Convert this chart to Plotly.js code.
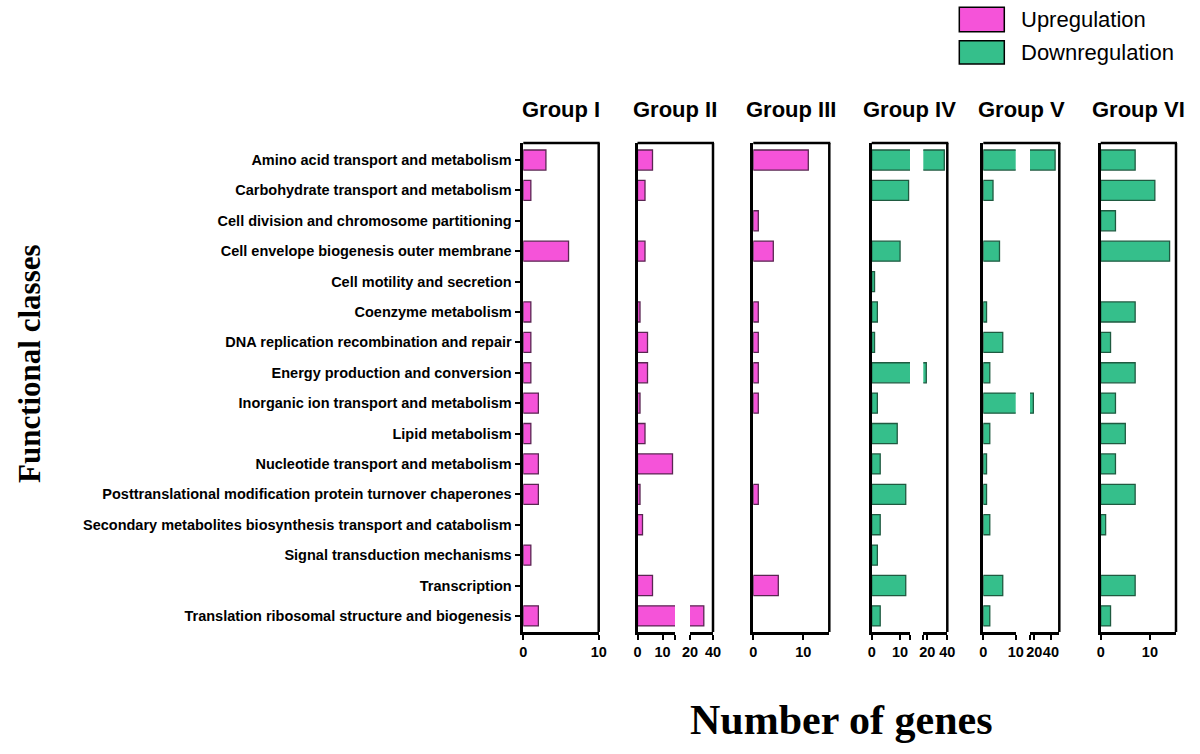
<!DOCTYPE html>
<html>
<head>
<meta charset="utf-8">
<script src="https://cdn.plot.ly/plotly-3.0.1.min.js"></script>
<style>html,body{margin:0;padding:0;background:#fff;}#chart{width:1200px;height:754px;}</style>
</head>
<body>
<div id="chart"></div>
<script>
// ---------- DATA ----------
const categories = [
  'Amino acid transport and metabolism',
  'Carbohydrate transport and metabolism',
  'Cell division and chromosome partitioning',
  'Cell envelope biogenesis outer membrane',
  'Cell motility and secretion',
  'Coenzyme metabolism',
  'DNA replication recombination and repair',
  'Energy production and conversion',
  'Inorganic ion transport and metabolism',
  'Lipid metabolism',
  'Nucleotide transport and metabolism',
  'Posttranslational modification protein turnover chaperones',
  'Secondary metabolites biosynthesis transport and catabolism',
  'Signal transduction mechanisms',
  'Transcription',
  'Translation ribosomal structure and biogenesis'
];
const groupNames = ['Group I', 'Group II', 'Group III', 'Group IV', 'Group V', 'Group VI'];
const regulation = ['Upregulation', 'Upregulation', 'Upregulation', 'Downregulation', 'Downregulation', 'Downregulation'];
const legendLabels = ['Upregulation', 'Downregulation'];

const groupI   = [3, 1, 0, 6, 0, 1, 1, 1, 2, 1, 2, 2, 0, 1, 0, 2];
const groupII  = [6, 3, 0, 3, 0, 1, 4, 4, 1, 3, 14, 1, 2, 0, 6, 32];
const groupIII = [11, 0, 1, 4, 0, 1, 1, 1, 1, 0, 0, 1, 0, 0, 5, 0];
const groupIV  = [37, 13, 0, 10, 1, 2, 1, 19, 2, 9, 3, 12, 3, 2, 12, 3];
const groupV   = [45, 3, 0, 5, 0, 1, 6, 2, 19, 2, 1, 1, 2, 0, 6, 2];
const groupVI  = [7, 11, 3, 14, 0, 7, 2, 7, 3, 5, 3, 7, 1, 0, 7, 2];
const groupValues = [groupI, groupII, groupIII, groupIV, groupV, groupVI];

// axis segments (broken axes) : ranges and tick labels
const segRanges = [
  [[0, 10]],
  [[0, 15], [20, 40]],
  [[0, 15.2]],
  [[0, 13.5], [16, 40]],
  [[0, 10], [15, 50]],
  [[0, 15.3]]
];
const segTickVals = [
  [[0, 10]],
  [[0, 10, 15], [20, 40]],
  [[0, 10]],
  [[0, 10, 13.5], [16, 20, 40]],
  [[0, 10], [15, 20, 40]],
  [[0, 10]]
];
const segTickText = [
  [['0', '10']],
  [['0', '10', ''], ['20', '40']],
  [['0', '10']],
  [['0', '10', ''], ['', '20', '40']],
  [['0', '10'], ['', '20', '40']],
  [['0', '10']]
];

// ---------- LAYOUT (pixel positions) ----------
const W = 1200, H = 754;
const PX = p => p / W;
const PY = p => 1 - p / H;
const segPixels = [
  [[523.3, 598.7]],
  [[637.5, 675], [690, 713]],
  [[753.3, 829.3]],
  [[871.7, 910], [923.3, 947.3]],
  [[983.3, 1015.7], [1030, 1059.3]],
  [[1100.7, 1176]]
];
const plotTop = 143, plotBottom = 632;
const colors = {Upregulation: '#f553d9', Downregulation: '#35bf8b'};
const lineColors = {Upregulation: '#5a2652', Downregulation: '#1f5a40'};
const sans = 'Liberation Sans, Arial, sans-serif';
const serif = 'Liberation Serif, Times New Roman, serif';

const traces = [];
const layout = {
  width: W, height: H,
  margin: {l: 0, r: 0, t: 0, b: 0},
  paper_bgcolor: '#fff', plot_bgcolor: 'rgba(0,0,0,0)',
  showlegend: false,
  bargap: 0.34,
  shapes: [], annotations: []
};

let k = 0;
groupValues.forEach((vals, g) => {
  const reg = regulation[g];
  const segs = segPixels[g];
  segs.forEach((pix, s) => {
    k += 1;
    const xn = k === 1 ? 'x' : 'x' + k;
    const yn = k === 1 ? 'y' : 'y' + k;
    const xk = k === 1 ? 'xaxis' : 'xaxis' + k;
    const yk = k === 1 ? 'yaxis' : 'yaxis' + k;
    layout[xk] = {
      domain: [PX(pix[0]), PX(pix[1])],
      anchor: yn,
      range: segRanges[g][s],
      tickmode: 'array',
      tickvals: segTickVals[g][s],
      ticktext: segTickText[g][s],
      tickangle: 0,
      showline: true, linecolor: '#000', linewidth: 2.5,
      ticks: 'outside', ticklen: 5, tickwidth: 2, tickcolor: '#000',
      showgrid: false, zeroline: false, fixedrange: true,
      tickfont: {family: sans, size: 14.5, color: '#000', weight: 'bold'}
    };
    const first = (g === 0 && s === 0);
    layout[yk] = {
      domain: [PY(plotBottom), PY(plotTop)],
      anchor: xn,
      type: 'category',
      categoryorder: 'array',
      categoryarray: categories,
      range: [15.53, -0.56],
      showline: s === 0, linecolor: '#000', linewidth: 2.5,
      ticks: first ? 'outside' : '', ticklen: 6, tickwidth: 2, tickcolor: '#000',
      showticklabels: first,
      showgrid: false, zeroline: false, fixedrange: true,
      tickfont: {family: sans, size: 14.5, color: '#000', weight: 'bold'}
    };
    traces.push({
      type: 'bar', orientation: 'h',
      x: vals.map(v => v === 0 ? null : v),
      y: categories,
      xaxis: xn, yaxis: yn,
      name: reg,
      marker: {color: colors[reg], line: {color: lineColors[reg], width: 1.3}},
      hovertemplate: '%{y}: %{x}<extra>' + groupNames[g] + '</extra>'
    });
  });
  // frame: top and right lines
  const left = segs[0][0], right = segs[segs.length - 1][1];
  layout.shapes.push({type: 'line', xref: 'paper', yref: 'paper',
    x0: PX(left), x1: PX(right) + 1 / W, y0: PY(plotTop), y1: PY(plotTop),
    line: {color: '#000', width: 2.5}});
  layout.shapes.push({type: 'line', xref: 'paper', yref: 'paper',
    x0: PX(right), x1: PX(right), y0: PY(plotTop), y1: PY(plotBottom),
    line: {color: '#000', width: 2.5}});
  // group title
  layout.annotations.push({xref: 'paper', yref: 'paper',
    x: PX((left + right) / 2), y: PY(109), xanchor: 'center', yanchor: 'middle',
    text: groupNames[g], showarrow: false,
    font: {family: sans, size: 22, color: '#000', weight: 'bold'}});
});

// legend (drawn manually)
const legendY = [[7.3, 31.7], [40.7, 64]];
legendLabels.forEach((lab, i) => {
  layout.shapes.push({type: 'rect', xref: 'paper', yref: 'paper',
    x0: PX(959.3), x1: PX(1004.3), y0: PY(legendY[i][1]), y1: PY(legendY[i][0]),
    fillcolor: colors[lab], line: {color: '#000', width: 1.5}});
  layout.annotations.push({xref: 'paper', yref: 'paper',
    x: PX(1019), y: PY((legendY[i][0] + legendY[i][1]) / 2),
    xanchor: 'left', yanchor: 'middle', text: lab, showarrow: false,
    font: {family: sans, size: 22, color: '#000'}});
});

// axis titles
layout.annotations.push({xref: 'paper', yref: 'paper', x: PX(29), y: PY(364),
  xanchor: 'center', yanchor: 'middle', textangle: -90, showarrow: false,
  text: 'Functional classes',
  font: {family: serif, size: 31, color: '#000', weight: 'bold'}});
layout.annotations.push({xref: 'paper', yref: 'paper', x: PX(841), y: PY(720),
  xanchor: 'center', yanchor: 'middle', showarrow: false,
  text: 'Number of genes',
  font: {family: serif, size: 42, color: '#000', weight: 'bold'}});

Plotly.newPlot('chart', traces, layout, {displayModeBar: false, staticPlot: false});
</script>
</body>
</html>
